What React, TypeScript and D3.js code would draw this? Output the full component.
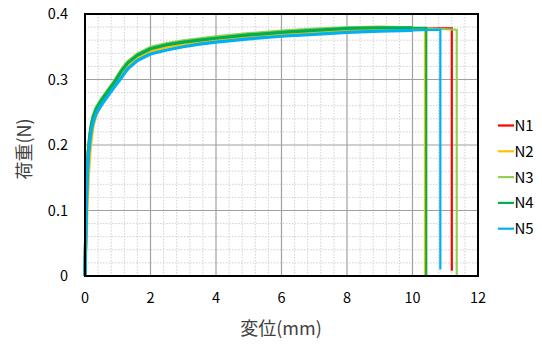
import React from "react";
import * as d3 from "d3";

const W = 542, H = 355;
const M = { left: 85, top: 14, right: 478, bottom: 276 };

const xTicks = [0, 2, 4, 6, 8, 10, 12];
const yTicks = [0, 0.1, 0.2, 0.3, 0.4];
const yTickLabels = ["0", "0.1", "0.2", "0.3", "0.4"];

const seriesNames = ["N1", "N2", "N3", "N4", "N5"];
const seriesColors = ["#FF0000", "#FFC000", "#92D050", "#00B050", "#00B0F0"];

const xs = [0, 0.03, 0.06, 0.1, 0.15, 0.2, 0.25, 0.35, 0.5, 0.7, 0.9, 1.1, 1.3, 1.6, 2.0, 2.5, 3, 3.5, 4, 5, 6, 7, 8, 9, 10];

const n1Y = [0, 0.088, 0.148, 0.188, 0.213, 0.23, 0.241, 0.254, 0.266, 0.28, 0.295, 0.311, 0.324, 0.336, 0.346, 0.352, 0.356, 0.359, 0.362, 0.367, 0.371, 0.374, 0.377, 0.378, 0.378];
const n2Y = [0, 0.05, 0.1, 0.15, 0.19, 0.213, 0.23, 0.248, 0.262, 0.277, 0.291, 0.306, 0.32, 0.333, 0.343, 0.35, 0.354, 0.357, 0.36, 0.365, 0.369, 0.373, 0.376, 0.377, 0.378];
const n3Y = [0, 0.092, 0.152, 0.192, 0.217, 0.234, 0.245, 0.258, 0.27, 0.284, 0.298, 0.314, 0.327, 0.339, 0.349, 0.355, 0.359, 0.362, 0.365, 0.37, 0.374, 0.377, 0.379, 0.38, 0.379];
const n4Y = [0, 0.09, 0.15, 0.19, 0.215, 0.232, 0.243, 0.256, 0.268, 0.282, 0.296, 0.312, 0.325, 0.337, 0.347, 0.353, 0.357, 0.36, 0.363, 0.368, 0.372, 0.375, 0.378, 0.379, 0.379];
const n5Y = [0, 0.08, 0.14, 0.18, 0.206, 0.224, 0.235, 0.249, 0.261, 0.275, 0.289, 0.302, 0.316, 0.329, 0.339, 0.345, 0.35, 0.354, 0.357, 0.362, 0.366, 0.369, 0.372, 0.374, 0.375];
const seriesY = [n1Y, n2Y, n3Y, n4Y, n5Y];

// break point: displacement at failure, load at plateau end, load after drop
const breakX = [11.2, 10.38, 11.35, 10.42, 10.85];
const plateauY = [0.378, 0.378, 0.376, 0.379, 0.376];
const dropY = [0.008, 0, 0, 0, 0.01];

export default function App() {
  const x = d3.scaleLinear().domain([0, 12]).range([M.left, M.right]);
  const y = d3.scaleLinear().domain([0, 0.4]).range([M.bottom, M.top]);
  const line = d3.line<[number, number]>().x(d => x(d[0])).y(d => y(d[1]));

  const minorX = d3.range(0, 12.001, 0.4).filter(v => Math.abs(v / 2 - Math.round(v / 2)) > 1e-6);
  const minorY = d3.range(0, 0.4001, 0.02).filter(v => Math.abs(v / 0.1 - Math.round(v / 0.1)) > 1e-6);

  const font = "'Noto Sans CJK JP', 'Noto Sans', sans-serif";

  return (
    <svg width={W} height={H} style={{ position: "absolute", left: 0, top: 0, background: "#fff" }}>
      <rect x={0} y={0} width={W} height={H} fill="#fff" />
      {minorX.map((v, i) => (
        <line key={"mx" + i} x1={x(v)} x2={x(v)} y1={M.top} y2={M.bottom} stroke="#D0D0D0" strokeWidth={1} strokeDasharray="1.5,1.5" />
      ))}
      {minorY.map((v, i) => (
        <line key={"my" + i} x1={M.left} x2={M.right} y1={y(v)} y2={y(v)} stroke="#D0D0D0" strokeWidth={1} strokeDasharray="1.5,1.5" />
      ))}
      {xTicks.map((v, i) => (
        <line key={"gx" + i} x1={x(v)} x2={x(v)} y1={M.top} y2={M.bottom} stroke="#A0A0A0" strokeWidth={1.2} />
      ))}
      {yTicks.map((v, i) => (
        <line key={"gy" + i} x1={M.left} x2={M.right} y1={y(v)} y2={y(v)} stroke="#A0A0A0" strokeWidth={1.2} />
      ))}

      {seriesNames.map((name, si) => {
        const pts: [number, number][] = xs.map((xv, i) => [xv, seriesY[si][i]] as [number, number]);
        const tail: [number, number][] = [
          [xs[xs.length - 1], seriesY[si][xs.length - 1]],
          [breakX[si], plateauY[si]],
          [breakX[si], dropY[si]],
        ];
        return (
          <g key={name}>
            <path d={line(pts) || ""} fill="none" stroke={seriesColors[si]} strokeWidth={3.2} strokeLinejoin="round" />
            <path d={line(tail) || ""} fill="none" stroke={seriesColors[si]} strokeWidth={2.2} strokeLinejoin="miter" />
          </g>
        );
      })}

      <rect x={M.left} y={M.top} width={M.right - M.left} height={M.bottom - M.top} fill="none" stroke="#000" strokeWidth={2} />

      {xTicks.map((v, i) => (
        <text key={"tx" + i} x={x(v)} y={303} textAnchor="middle" fontSize={14.5} fontFamily={font} fill="#000">{v}</text>
      ))}
      {yTicks.map((v, i) => (
        <text key={"ty" + i} x={68} y={y(v) + 5} textAnchor="end" fontSize={14.5} fontFamily={font} fill="#000">{yTickLabels[i]}</text>
      ))}

      <text x={281} y={335} textAnchor="middle" fontSize={18} fontFamily={font} fill="#404040">変位(mm)</text>
      <text transform={`translate(31,149) rotate(-90)`} textAnchor="middle" fontSize={18} fontFamily={font} fill="#404040">荷重(N)</text>

      {seriesNames.map((name, si) => {
        const ly = 125.5 + si * 25.8;
        return (
          <g key={"lg" + name}>
            <line x1={498} x2={514} y1={ly} y2={ly} stroke={seriesColors[si]} strokeWidth={2.2} />
            <text x={514.5} y={ly + 5.5} fontSize={15} fontFamily={font} fill="#000">{name}</text>
          </g>
        );
      })}
    </svg>
  );
}
